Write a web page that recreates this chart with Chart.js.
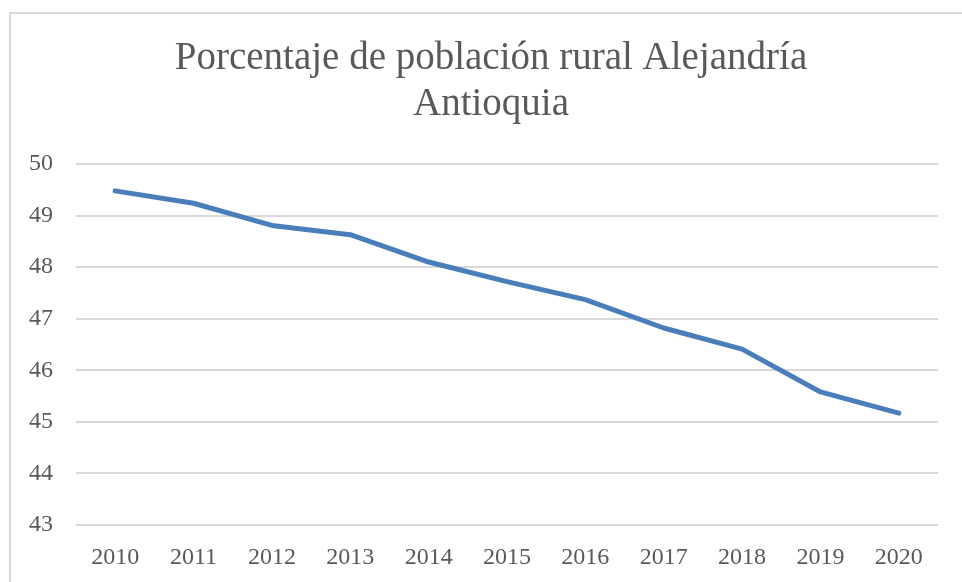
<!DOCTYPE html>
<html>
<head>
<meta charset="utf-8">
<script src="https://cdn.jsdelivr.net/npm/chart.js@4.4.1/dist/chart.umd.min.js"></script>
<style>
  html, body { margin: 0; padding: 0; background: #ffffff; overflow: hidden; width: 962px; height: 582px; }
  #wrap { position: absolute; left: 0; top: 0; width: 982px; height: 582px; }
  #frame { position: absolute; left: 9px; top: 12px; width: 1000px; height: 600px;
           border-left: 2px solid #d9d9d9; border-top: 2px solid #d9d9d9; box-sizing: border-box; pointer-events: none; }
</style>
</head>
<body>
<div id="wrap"><canvas id="c" width="982" height="582"></canvas></div>
<div id="frame"></div>
<script>
const titleLines = ["Porcentaje de población rural Alejandría", "Antioquia"];
const years = ["2010", "2011", "2012", "2013", "2014", "2015", "2016", "2017", "2018", "2019", "2020"];
const ruralPct = [49.48, 49.24, 48.81, 48.63, 48.10, 47.72, 47.37, 46.82, 46.41, 45.58, 45.17];
const yMin = 43;
const yMax = 50;
const yStep = 1;

const textColor = "#595959";
const gridColor = "#d9d9d9";
const serif = "'Liberation Serif', 'Times New Roman', serif";

new Chart(document.getElementById("c"), {
  type: "line",
  data: {
    labels: years,
    datasets: [{
      data: ruralPct,
      yAxisID: "y",
      borderColor: "#4a7ebb",
      borderWidth: 5,
      borderCapStyle: "round",
      borderJoinStyle: "round",
      pointRadius: 0,
      pointHoverRadius: 0,
      tension: 0,
      fill: false
    }]
  },
  options: {
    responsive: false,
    animation: false,
    devicePixelRatio: 1,
    layout: { padding: { left: 10, right: 10, top: 12, bottom: 0 } },
    plugins: {
      legend: { display: false },
      tooltip: { enabled: false },
      title: {
        display: true,
        text: titleLines,
        color: textColor,
        font: { family: serif, size: 39, weight: "normal", lineHeight: 1.18 },
        padding: { top: 24, bottom: 36 }
      }
    },
    scales: {
      x: {
        type: "category",
        offset: true,
        grid: { display: false, drawTicks: false },
        border: { display: false },
        ticks: { color: textColor, font: { family: serif, size: 24 }, padding: 18, maxRotation: 0, autoSkip: false },
        afterFit: s => { s.height = 57; }
      },
      y: {
        position: "left",
        min: yMin,
        max: yMax,
        grid: { color: gridColor, lineWidth: 2, drawTicks: false },
        border: { display: false },
        ticks: { stepSize: yStep, color: textColor, font: { family: serif, size: 24 }, padding: 23 },
        afterFit: s => { s.width = 66; }
      },
      yRight: {
        type: "linear",
        position: "right",
        display: true,
        grid: { display: false, drawTicks: false },
        border: { display: false },
        ticks: { display: false },
        afterFit: s => { s.width = 34; }
      }
    }
  }
});
</script>
</body>
</html>
